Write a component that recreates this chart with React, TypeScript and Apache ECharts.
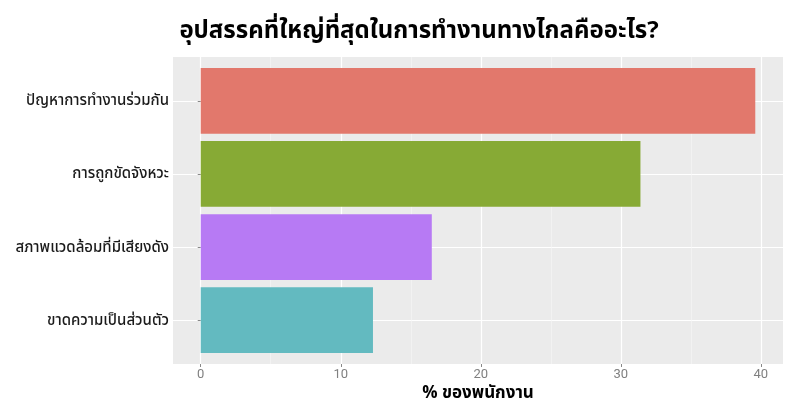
import React, { useEffect, useRef } from "react";
import * as echarts from "echarts";

const title = "อุปสรรคที่ใหญ่ที่สุดในการทำงานทางไกลคืออะไร?";
const xAxisTitle = "% ของพนักงาน";
const categories = [
  "ปัญหาการทำงานร่วมกัน",
  "การถูกขัดจังหวะ",
  "สภาพแวดล้อมที่มีเสียงดัง",
  "ขาดความเป็นส่วนตัว",
];
const values = [39.6, 31.4, 16.5, 12.3];
const colors = ["#E2786C", "#87AA35", "#B77AF4", "#63BAC0"];
const xTicks = [0, 10, 20, 30, 40];
const xMinorTicks = [5, 15, 25, 35];

const thaiFont = "'Noto Sans Thai', 'Noto Sans Thai UI', 'Noto Sans', 'DejaVu Sans', sans-serif";

export default function App() {
  const ref = useRef<HTMLDivElement>(null);
  useEffect(() => {
    if (!ref.current) return;
    const chart = echarts.init(ref.current, null, { renderer: "svg" });
    const n = categories.length;
    const yPos = categories.map((_, i) => n - i);
    const labelMap: Record<number, string> = {};
    yPos.forEach((p, i) => (labelMap[p] = categories[i]));
    const xMin = -0.05 * Math.max(...values);
    const xMax = Math.max(...values) * 1.05;
    chart.setOption({
      animation: false,
      title: {
        text: title,
        left: 414,
        textAlign: "center",
        top: 14,
        textStyle: {
          fontFamily: thaiFont,
          fontSize: 24,
          fontWeight: "bold",
          color: "#000",
        },
      },
      grid: [
        {
          left: 173,
          right: 14,
          top: 57,
          bottom: 42,
          show: true,
          backgroundColor: "#EBEBEB",
          borderWidth: 0,
          containLabel: false,
          outerBoundsMode: "none",
        },
      ],
      xAxis: [
        {
          type: "value",
          gridIndex: 0,
          min: xMin,
          max: xMax,
          name: xAxisTitle,
          nameLocation: "middle",
          nameGap: 20,
          nameTextStyle: { fontFamily: thaiFont, fontSize: 17, fontWeight: "bold", color: "#000" },
          axisLine: { show: false },
          axisTick: { show: true, length: 3, lineStyle: { color: "#888" }, customValues: xTicks },
          axisLabel: { customValues: xTicks, color: "#808080", fontSize: 13, fontFamily: "Roboto, sans-serif", margin: 3 },
          splitLine: { show: true, lineStyle: { color: "#FFFFFF", width: 1.2 } },
        },
        {
          type: "value",
          gridIndex: 0,
          min: xMin,
          max: xMax,
          position: "bottom",
          axisLine: { show: false },
          axisTick: { show: false, customValues: xMinorTicks },
          axisLabel: { show: false, customValues: xMinorTicks },
          splitLine: { show: true, lineStyle: { color: "#F7F7F7", width: 0.6 } },
        },
      ],
      yAxis: {
        type: "value",
        min: 0.4,
        max: n + 0.6,
        axisLine: { show: false },
        axisTick: { show: true, length: 3, lineStyle: { color: "#888" }, customValues: yPos },
        axisLabel: {
          customValues: yPos,
          formatter: (v: number) => labelMap[Math.round(v)] ?? "",
          color: "#1A1A1A",
          fontSize: 15,
          fontWeight: 500,
          fontFamily: thaiFont,
          margin: 4,
        },
        splitLine: { show: true, lineStyle: { color: "#FFFFFF", width: 1.2 } },
      },
      series: [
        {
          type: "custom",
          xAxisIndex: 0,
          yAxisIndex: 0,
          data: values.map((v, i) => [v, yPos[i]]),
          renderItem: (params: any, api: any) => {
            const v = api.value(0);
            const c = api.value(1);
            const s = api.coord([0, c]);
            const e = api.coord([v, c]);
            const h = api.size([0, 0.9])[1];
            return {
              type: "rect",
              shape: { x: s[0], y: s[1] - h / 2, width: e[0] - s[0], height: h },
              style: { fill: colors[params.dataIndex] },
            };
          },
        },
      ],
    });
    return () => chart.dispose();
  }, []);
  return <div ref={ref} style={{ position: "fixed", left: 0, top: 0, width: 797, height: 406 }} />;
}
